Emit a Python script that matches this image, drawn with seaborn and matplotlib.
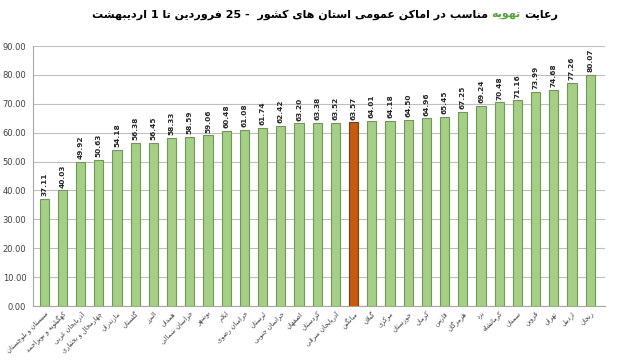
import matplotlib
matplotlib.use("Agg")
import matplotlib.pyplot as plt
import seaborn as sns
import numpy as np

categories = ["سیستان و بلوچستان", "کهگیلویه و بویراحمد", "آذربایجان غربی",
              "چهارمحال و بختیاری", "مازندران", "گلستان", "البرز", "همدان",
              "خراسان شمالی", "بوشهر", "ایلام", "خراسان رضوی", "لرستان",
              "خراسان جنوبی", "اصفهان", "کردستان", "آذربایجان شرقی", "میانگین",
              "گیلان", "مرکزی", "خوزستان", "کرمان", "فارس", "هرمزگان", "یزد",
              "کرمانشاه", "سمنان", "قزوین", "تهران", "اردبیل", "زنجان"]
values = [37.11, 40.03, 49.92, 50.63, 54.18, 56.38, 56.45, 58.33, 58.59, 59.06,
          60.48, 61.08, 61.74, 62.42, 63.20, 63.38, 63.52, 63.57, 64.01, 64.18,
          64.50, 64.96, 65.45, 67.25, 69.24, 70.48, 71.16, 73.99, 74.68, 77.26, 80.07]
highlight = "میانگین"
yticks = [0, 10, 20, 30, 40, 50, 60, 70, 80, 90]
title_right = "رعایت"
title_green = "تهویه"
title_left = "مناسب در اماکن عمومی استان های کشور  - 25 فروردین تا 1 اردیبهشت"

# --- minimal Persian shaping (presentation forms) + RTL ordering ---
FORMS = {
    'ء': ('\uFE80', None, None, None),
    'آ': ('\uFE81', '\uFE82', None, None),
    'ا': ('\uFE8D', '\uFE8E', None, None),
    'ب': ('\uFE8F', '\uFE90', '\uFE91', '\uFE92'),
    'پ': ('\uFB56', '\uFB57', '\uFB58', '\uFB59'),
    'ت': ('\uFE95', '\uFE96', '\uFE97', '\uFE98'),
    'ث': ('\uFE99', '\uFE9A', '\uFE9B', '\uFE9C'),
    'ج': ('\uFE9D', '\uFE9E', '\uFE9F', '\uFEA0'),
    'چ': ('\uFB7A', '\uFB7B', '\uFB7C', '\uFB7D'),
    'ح': ('\uFEA1', '\uFEA2', '\uFEA3', '\uFEA4'),
    'خ': ('\uFEA5', '\uFEA6', '\uFEA7', '\uFEA8'),
    'د': ('\uFEA9', '\uFEAA', None, None),
    'ذ': ('\uFEAB', '\uFEAC', None, None),
    'ر': ('\uFEAD', '\uFEAE', None, None),
    'ز': ('\uFEAF', '\uFEB0', None, None),
    'ژ': ('\uFB8A', '\uFB8B', None, None),
    'س': ('\uFEB1', '\uFEB2', '\uFEB3', '\uFEB4'),
    'ش': ('\uFEB5', '\uFEB6', '\uFEB7', '\uFEB8'),
    'ص': ('\uFEB9', '\uFEBA', '\uFEBB', '\uFEBC'),
    'ض': ('\uFEBD', '\uFEBE', '\uFEBF', '\uFEC0'),
    'ط': ('\uFEC1', '\uFEC2', '\uFEC3', '\uFEC4'),
    'ظ': ('\uFEC5', '\uFEC6', '\uFEC7', '\uFEC8'),
    'ع': ('\uFEC9', '\uFECA', '\uFECB', '\uFECC'),
    'غ': ('\uFECD', '\uFECE', '\uFECF', '\uFED0'),
    'ف': ('\uFED1', '\uFED2', '\uFED3', '\uFED4'),
    'ق': ('\uFED5', '\uFED6', '\uFED7', '\uFED8'),
    'ک': ('\uFB8E', '\uFB8F', '\uFB90', '\uFB91'),
    'گ': ('\uFB92', '\uFB93', '\uFB94', '\uFB95'),
    'ل': ('\uFEDD', '\uFEDE', '\uFEDF', '\uFEE0'),
    'م': ('\uFEE1', '\uFEE2', '\uFEE3', '\uFEE4'),
    'ن': ('\uFEE5', '\uFEE6', '\uFEE7', '\uFEE8'),
    'ه': ('\uFEE9', '\uFEEA', '\uFEEB', '\uFEEC'),
    'و': ('\uFEED', '\uFEEE', None, None),
    'ی': ('\uFBFC', '\uFBFD', '\uFBFE', '\uFBFF'),
    'ئ': ('\uFE89', '\uFE8A', '\uFE8B', '\uFE8C'),
}
LAMALEF = {'ا': ('\uFEFB', '\uFEFC'), 'آ': ('\uFEF5', '\uFEF6')}


def shape_word(w):
    out = []
    i, n = 0, len(w)
    while i < n:
        c = w[i]
        f = FORMS.get(c)
        if f is None:
            out.append(c)
            i += 1
            continue
        prev = w[i - 1] if i > 0 else None
        jp = prev is not None and prev in FORMS and FORMS[prev][2] is not None
        if c == 'ل' and i + 1 < n and w[i + 1] in LAMALEF:
            lig = LAMALEF[w[i + 1]]
            out.append(lig[1] if jp else lig[0])
            i += 2
            continue
        nxt = w[i + 1] if i + 1 < n else None
        jn = f[2] is not None and nxt is not None and nxt in FORMS
        if jp and jn:
            g = f[3]
        elif jp:
            g = f[1] or f[0]
        elif jn:
            g = f[2]
        else:
            g = f[0]
        out.append(g)
        i += 1
    return ''.join(out)


def visual(s):
    toks = s.split(' ')
    res = []
    for t in reversed(toks):
        if any(ch in FORMS for ch in t):
            res.append(shape_word(t)[::-1])
        else:
            res.append(t)
    return ' '.join(res)


sns.set_theme(style="white")
plt.rcParams['font.family'] = ['DejaVu Sans']

fig = plt.figure(figsize=(6.4, 3.6), dpi=100)
ax = fig.add_axes([0.052, 0.15, 0.893, 0.722])

green = "#A5CF86"
orange = "#C55A11"
colors = [orange if c == highlight else green for c in categories]
edges = ["#843C0C" if c == highlight else "#6F9A52" for c in categories]

x = list(range(len(categories)))
sns.barplot(x=x, y=values, hue=x, palette=colors, legend=False, width=0.5,
            ax=ax, saturation=1, linewidth=0.8, edgecolor="#6F9A52", zorder=3)
for p, e in zip(ax.patches, edges):
    p.set_edgecolor(e)

for xi, v in zip(x, values):
    ax.text(xi, v + 1.0, f"{v:.2f}", rotation=90, ha='center', va='bottom',
            fontsize=5.3, fontweight='bold', color='#262626')

ax.set_ylim(0, 90)
ax.set_xlim(-0.6, len(categories) - 0.2)
ax.set_yticks(yticks)
ax.set_yticklabels([f"{t:.2f}" for t in yticks], fontsize=6, color='#404040')
ax.yaxis.grid(True, color='#bfbfbf', linewidth=0.8, zorder=0)
ax.set_xticks(x)
ax.set_xticklabels([visual(c) for c in categories], rotation=45, ha='right',
                   rotation_mode='anchor', fontsize=4.8, color='#404040')
ax.tick_params(axis='x', length=0, pad=3)
ax.tick_params(axis='y', length=2, pad=3, color='#999999')
for s in ['top', 'right']:
    ax.spines[s].set_visible(False)
ax.spines['left'].set_color('#a6a6a6')
ax.spines['bottom'].set_color('#a6a6a6')
ax.spines['left'].set_linewidth(0.8)
ax.spines['bottom'].set_linewidth(0.8)

# title pieces, laid out right-to-left and fitted to the reference width
fig.canvas.draw()
r = fig.canvas.get_renderer()
ty = 1 - 15 / 360
right_px, left_px = 558, 88
pieces = [(visual(title_right), 'black'), (visual(title_green), '#5BA33B'),
          (visual(title_left), 'black')]


def place(fs):
    arts = []
    xr = right_px / 640
    for txt, col in pieces:
        t = fig.text(xr, ty, txt, ha='right', va='center', fontsize=fs,
                     fontweight='bold', color=col)
        bb = t.get_window_extent(renderer=r)
        xr = (bb.x0 - fs * 0.4) / fig.bbox.width
        arts.append(t)
    return arts, arts[-1].get_window_extent(renderer=r).x0


arts, x0 = place(10)
fs = 10 * (right_px - left_px) / (right_px - x0)
for a in arts:
    a.remove()
place(fs)

fig.savefig("out.png", dpi=100)
